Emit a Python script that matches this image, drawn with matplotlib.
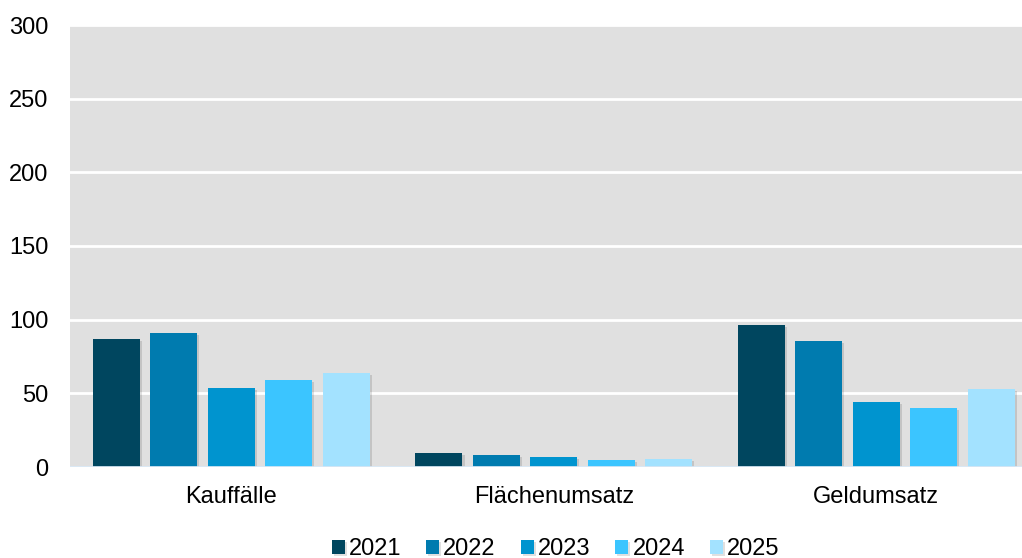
import matplotlib
matplotlib.use("Agg")
import matplotlib.pyplot as plt
import matplotlib.patheffects as pe
import numpy as np

plt.rcParams['font.family'] = ['Liberation Sans', 'DejaVu Sans']

categories = ["Kauffälle", "Flächenumsatz", "Geldumsatz"]
years = ["2021", "2022", "2023", "2024", "2025"]
values_2021 = [86.7, 9.7, 96.2]
values_2022 = [91.0, 8.1, 85.5]
values_2023 = [53.6, 7.0, 44.1]
values_2024 = [58.9, 5.0, 40.1]
values_2025 = [63.8, 5.6, 52.7]
series = [values_2021, values_2022, values_2023, values_2024, values_2025]
colors = ["#00465F", "#007BAF", "#0094CF", "#3BC5FF", "#A3E2FF"]
yticks = [0, 50, 100, 150, 200, 250, 300]

W, H = 1022, 558
fig = plt.figure(figsize=(W/100, H/100), dpi=100)
ax = fig.add_axes([70/W, 1-467/H, 967.5/W, (467-25)/H])
ax.set_facecolor("#E0E0E0")

x = np.arange(len(categories))
step = 0.178
width = 0.146
for i, (vals, c, yr) in enumerate(zip(series, colors, years)):
    bars = ax.bar(x + (i - 2) * step, vals, width, color=c, label=yr, zorder=3)
    for b in bars:
        b.set_path_effects([pe.SimplePatchShadow(offset=(1.5, -1.5), shadow_rgbFace='#000000', alpha=0.12),
                            pe.Normal()])

ax.set_xlim(-0.5, 2.5)
ax.set_ylim(0, 300)
ax.set_yticks(yticks)
ax.set_yticklabels([str(t) for t in yticks])
ax.yaxis.grid(True, color="white", linewidth=2, zorder=1)
ax.set_axisbelow(True)
for s in ax.spines.values():
    s.set_visible(False)
ax.axhline(0, color="#D6E6F4", linewidth=2, zorder=4)
ax.tick_params(axis='y', length=0, pad=15.5, labelsize=17, colors="#000000")
ax.tick_params(axis='x', length=0, pad=14, labelsize=17, colors="#000000")
ax.set_xticks(x)
ax.set_xticklabels(categories)

fig.legend(loc="center", bbox_to_anchor=(555.5/W, 1-549/H), ncol=5, frameon=False,
           fontsize=17, handlelength=0.55, handleheight=0.55, handletextpad=0.18,
           columnspacing=1.05, borderpad=0)

fig.savefig("out.png", dpi=100)
